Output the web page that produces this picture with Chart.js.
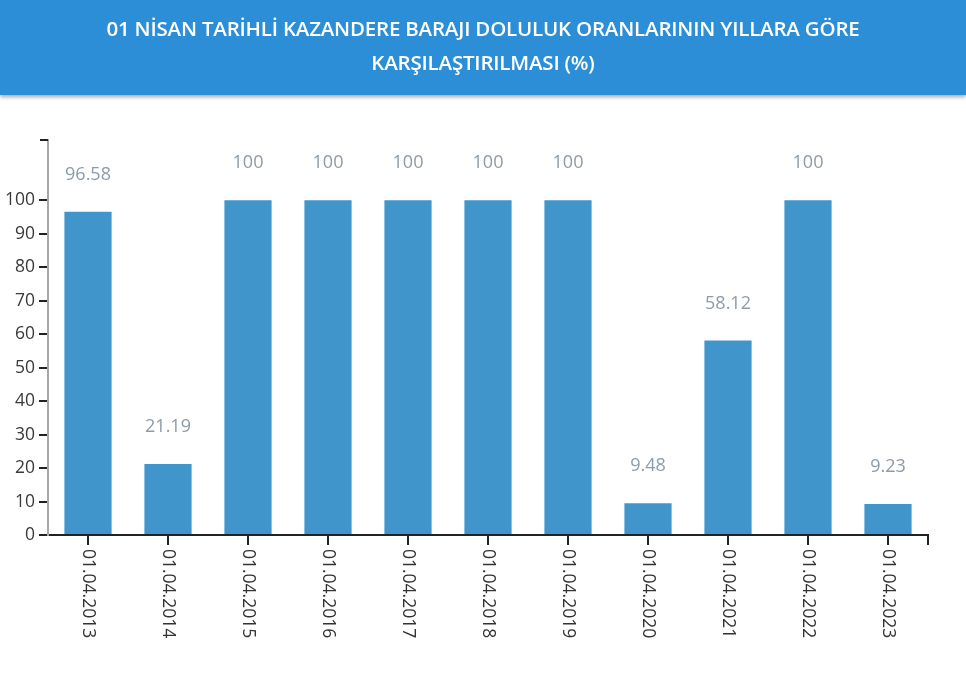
<!DOCTYPE html>
<html>
<head>
<meta charset="utf-8">
<script src="https://cdn.jsdelivr.net/npm/chart.js@4"></script>
<style>
  html, body { margin: 0; padding: 0; background: #fff; }
  body { width: 966px; height: 675px; position: relative; overflow: hidden; font-family: "Open Sans", sans-serif; }
  .baslik {
    position: absolute; left: 0; top: 0; width: 966px; height: 95px;
    background: #2b8ed6; color: #fff; text-align: center;
    box-shadow: 0 2px 4px rgba(0,0,0,0.35);
    font-weight: 600; font-size: 20.5px; letter-spacing: -0.2px; line-height: 34px; padding-top: 11px; box-sizing: border-box;
    z-index: 2;
  }
  #wrap { position: absolute; left: 0; top: 0; width: 966px; height: 675px; }
</style>
</head>
<body>
<div class="baslik">01 NİSAN TARİHLİ KAZANDERE BARAJI DOLULUK ORANLARININ YILLARA GÖRE<br>KARŞILAŞTIRILMASI (%)</div>
<div id="wrap"><canvas id="myChart"></canvas></div>
<script>
const tarihler = ["01.04.2013", "01.04.2014", "01.04.2015", "01.04.2016", "01.04.2017", "01.04.2018",
  "01.04.2019", "01.04.2020", "01.04.2021", "01.04.2022", "01.04.2023"];
const doluluk = [96.58, 21.19, 100, 100, 100, 100, 100, 9.48, 58.12, 100, 9.23];
const yTicks = [0, 10, 20, 30, 40, 50, 60, 70, 80, 90, 100];

// etiketler ve eksen uclari
const ciz = {
  id: "ciz",
  afterDraw(chart) {
    const ctx = chart.ctx;
    const x = chart.scales.x, y = chart.scales.y;
    const meta = chart.getDatasetMeta(0);
    ctx.save();
    // deger etiketleri
    ctx.font = "18px 'Open Sans'";
    ctx.fillStyle = "#8d9ca8";
    ctx.textAlign = "center";
    ctx.textBaseline = "middle";
    meta.data.forEach((bar, i) => {
      ctx.fillText(String(doluluk[i]), bar.x, bar.y - 37);
    });
    // x etiketleri (yukaridan asagi)
    ctx.font = "17.5px 'Open Sans'";
    ctx.fillStyle = "#333";
    ctx.textAlign = "left";
    tarihler.forEach((t, i) => {
      ctx.save();
      ctx.translate(x.getPixelForValue(i), y.bottom + 14);
      ctx.rotate(Math.PI / 2);
      ctx.fillText(t, 0, 0);
      ctx.restore();
    });
    // dis tikler
    ctx.strokeStyle = "#222";
    ctx.lineWidth = 2;
    ctx.beginPath();
    ctx.moveTo(x.right, y.bottom);
    ctx.lineTo(x.right, y.bottom + 10);
    ctx.moveTo(x.left - 8, y.top);
    ctx.lineTo(x.left, y.top);
    ctx.stroke();
    ctx.restore();
  }
};

const ctx = document.getElementById("myChart").getContext("2d");
new Chart(ctx, {
  type: "bar",
  data: {
    labels: tarihler,
    datasets: [{
      data: doluluk,
      backgroundColor: "#4096cb",
      barPercentage: 0.59,
      categoryPercentage: 1,
    }],
  },
  options: {
    responsive: true,
    maintainAspectRatio: false,
    animation: false,
    layout: { padding: { left: 0, right: 38, top: 140, bottom: 0 } },
    plugins: { legend: { display: false }, tooltip: { enabled: false } },
    scales: {
      x: {
        afterFit(scale) { scale.height = 140; },
        grid: { offset: false, drawOnChartArea: false, tickLength: 10, color: "#222", lineWidth: 2 },
        border: { color: "#222", width: 2 },
        ticks: { display: false },
      },
      y: {
        min: 0,
        max: 118,
        afterFit(scale) { scale.width = 48; },
        afterBuildTicks(scale) { scale.ticks = yTicks.map(v => ({ value: v })); },
        grid: { drawOnChartArea: false, tickLength: 9, color: "#222", lineWidth: 2 },
        border: { color: "#a8a8a8", width: 2 },
        ticks: { padding: 4, color: "#3a3a3a", font: { family: "Open Sans", size: 17.5 } },
      },
    },
  },
  plugins: [ciz],
});
</script>
</body>
</html>
